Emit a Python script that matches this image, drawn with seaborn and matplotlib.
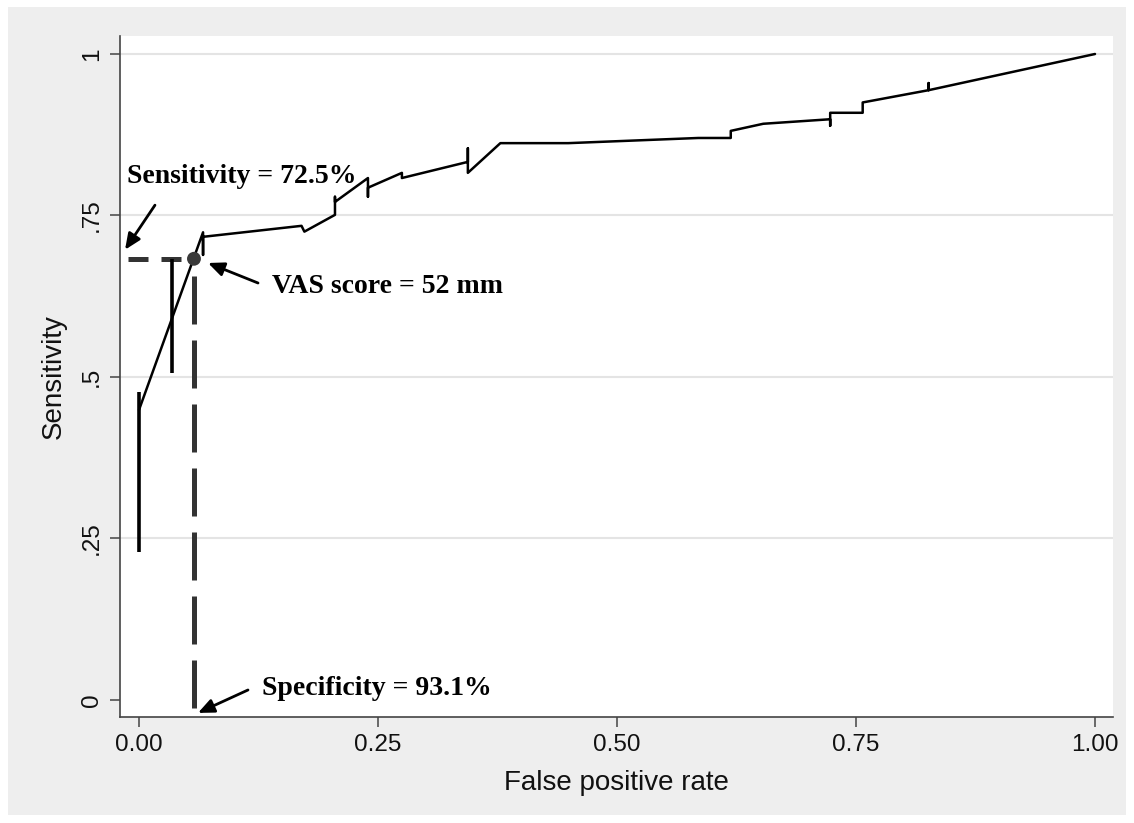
import matplotlib
matplotlib.use("Agg")
import matplotlib.pyplot as plt
import seaborn as sns
from matplotlib.patches import Rectangle

# ---------------- data ----------------
roc_fpr = [0.000, 0.067, 0.067, 0.067, 0.170, 0.173, 0.205, 0.205, 0.205,
           0.2395, 0.2395, 0.2395, 0.275, 0.275, 0.344, 0.344, 0.344, 0.378,
           0.449, 0.585, 0.619, 0.619, 0.653, 0.723, 0.723, 0.723, 0.757,
           0.757, 0.826, 0.826, 0.826, 1.000]
roc_sens = [0.449, 0.724, 0.689, 0.717, 0.734, 0.725, 0.751, 0.779, 0.771,
            0.808, 0.779, 0.793, 0.816, 0.808, 0.833, 0.854, 0.816, 0.862,
            0.862, 0.870, 0.870, 0.881, 0.892, 0.899, 0.889, 0.909, 0.909,
            0.925, 0.944, 0.955, 0.944, 1.000]
bar_fpr = [0.000, 0.035]
bar_low = [0.229, 0.506]
bar_high = [0.477, 0.683]

cut_fpr = 0.0575
cut_sens = 0.683

xticks = [0.0, 0.25, 0.5, 0.75, 1.0]
xticklabels = ["0.00", "0.25", "0.50", "0.75", "1.00"]
yticks = [0.0, 0.25, 0.5, 0.75, 1.0]
yticklabels = ["0", ".25", ".5", ".75", "1"]
grid_y = [0.25, 0.5, 0.75, 1.0]

sens_text = "Sensitivity = 72.5%"
vas_text = "VAS score = 52 mm"
spec_text = "Specificity = 93.1%"

# ---------------- figure ----------------
sns.set_theme(style="white")
plt.rcParams["font.family"] = ["Liberation Sans", "DejaVu Sans"]

W, H = 1134, 823
fig = plt.figure(figsize=(W / 100, H / 100), dpi=100, facecolor="white")
fig.patches.append(Rectangle((8 / W, 8 / H), (1126 - 8) / W, (815 - 7) / H,
                             transform=fig.transFigure, facecolor="#eeeeee",
                             edgecolor="none", zorder=-10))

ax = fig.add_axes([120 / W, (823 - 717) / H, (1113 - 120) / W, (717 - 36) / H])
ax.set_zorder(1)
ax.set_facecolor("white")

for gy in grid_y:
    ax.axhline(gy, color="#e4e4e4", lw=1.5, zorder=0)

sns.lineplot(x=roc_fpr, y=roc_sens, sort=False, estimator=None,
             color="black", lw=1.8, ax=ax, zorder=3)
ax.vlines(bar_fpr, bar_low, bar_high, color="black", lw=2.6, zorder=3)

dash_col = "#333333"
ax.plot([-0.0115, cut_fpr], [cut_sens, cut_sens], color=dash_col, lw=3.6,
        ls=(0, (4.0, 2.6)), solid_capstyle="butt", dash_capstyle="butt", zorder=2)
ax.plot([cut_fpr, cut_fpr], [-0.0124, cut_sens], color=dash_col, lw=3.6,
        ls=(0, (9.6, 3.2)), dash_capstyle="butt", zorder=2)

sns.scatterplot(x=[cut_fpr], y=[cut_sens], s=100, color="#3a3a3a",
                edgecolor="none", ax=ax, zorder=5)

arrow_kw = dict(arrowstyle="-|>,head_length=0.8,head_width=0.35",
                color="black", lw=2.0, shrinkA=0, shrinkB=0)
serif = dict(family=["Liberation Serif", "DejaVu Serif"], fontweight="bold",
             fontsize=20, color="black")

ax.annotate("", xy=(-0.0146, 0.697), xytext=(0.0167, 0.766), arrowprops=arrow_kw, zorder=6)
ax.text(-0.0126, 0.800, sens_text, ha="left", va="baseline", **serif)

ax.annotate("", xy=(0.0722, 0.6765), xytext=(0.1245, 0.6455), arrowprops=arrow_kw, zorder=6)
ax.text(0.139, 0.630, vas_text, ha="left", va="baseline", **serif)

ax.annotate("", xy=(0.0617, -0.020), xytext=(0.114, 0.0155), arrowprops=arrow_kw, zorder=6)
ax.text(0.1287, 0.0077, spec_text, ha="left", va="baseline", **serif)

ax.set_xlim(-0.01987, 1.01883)
ax.set_ylim(-0.02632, 1.02786)
ax.set_xticks(xticks)
ax.set_xticklabels(xticklabels)
ax.set_yticks(yticks)
ax.set_yticklabels(yticklabels, rotation=90, va="center")

for s in ["top", "right"]:
    ax.spines[s].set_visible(False)
for s in ["left", "bottom"]:
    ax.spines[s].set_color("#444444")
    ax.spines[s].set_linewidth(1.2)

ax.tick_params(axis="both", direction="out", length=7.2, width=1.1,
               color="#444444", labelsize=17.5, labelcolor="#111111", pad=5,
               left=True, bottom=True)
ax.set_xlabel("False positive rate", fontsize=20, color="#111111", labelpad=10)
ax.set_ylabel("Sensitivity", fontsize=20, color="#111111", labelpad=10)
ax.grid(False)

fig.savefig("out.png", dpi=100, facecolor=fig.get_facecolor())
